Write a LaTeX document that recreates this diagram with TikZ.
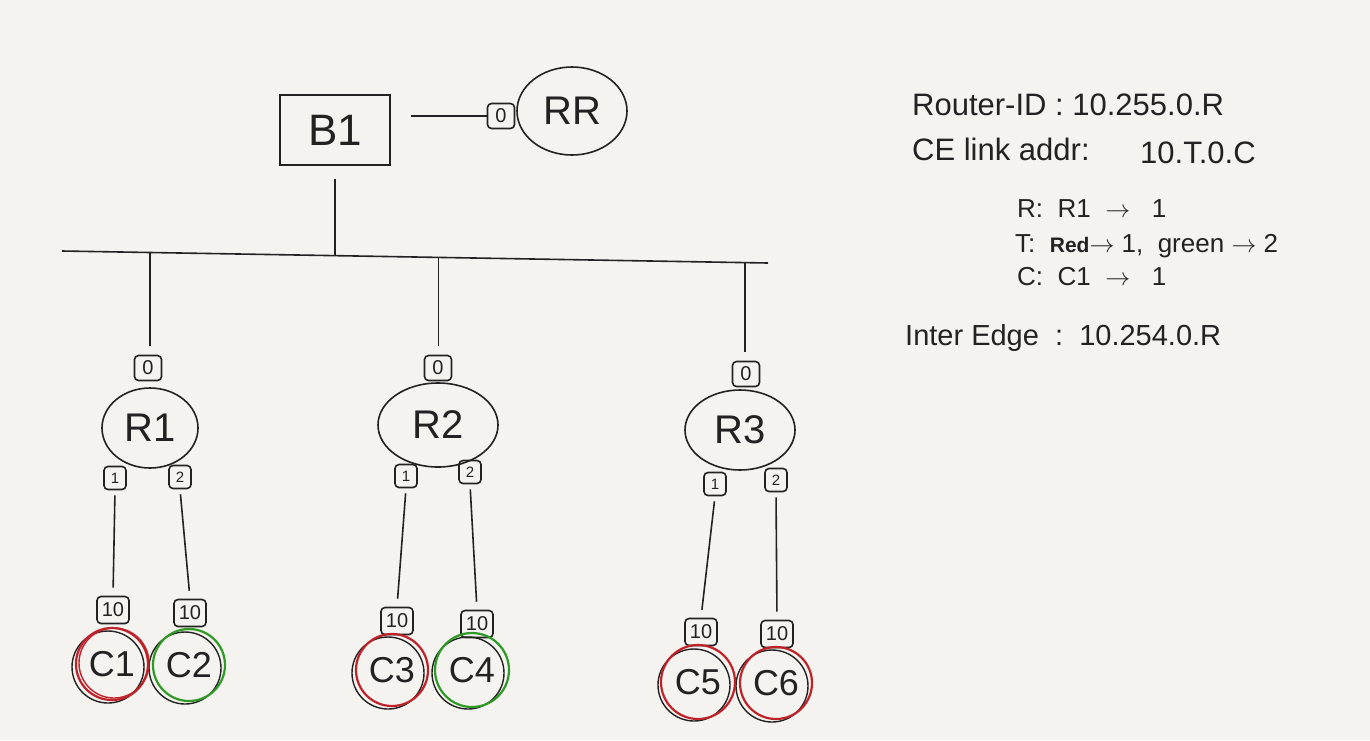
\documentclass[tikz,border=0pt]{standalone}
\usepackage{fontspec}
\setmainfont{Liberation Sans}
\usetikzlibrary{shapes.geometric,calc}
\definecolor{bg}{HTML}{F4F3EF}
\definecolor{ink}{HTML}{222222}
\definecolor{cred}{HTML}{C0222A}
\definecolor{cgreen}{HTML}{2F9A26}
\newcommand\fsz[1]{\fontsize{#1}{#1}\selectfont}
\begin{document}
\begin{tikzpicture}[x=1pt,y=-1pt,
  every node/.style={text=ink},
  link/.style={draw=ink,line width=1.6pt},
  boxnode/.style={draw=ink,line width=1.6pt,minimum width=110pt,minimum height=70pt,font=\fsz{44}},
  rtr/.style={draw=ink,line width=1.6pt,ellipse,inner sep=0pt,font=\fsz{40}},
  pzero/.style={draw=ink,line width=1.6pt,rounded corners=4pt,minimum width=27pt,minimum height=25pt,inner sep=0pt,font=\fsz{20}},
  pnum/.style={draw=ink,line width=1.6pt,rounded corners=4pt,minimum width=22pt,minimum height=23pt,inner sep=0pt,font=\fsz{15}},
  pcust/.style={draw=ink,line width=1.6pt,rounded corners=4pt,minimum width=32pt,minimum height=27pt,inner sep=0pt,font=\fsz{20}},
  cust/.style={circle,minimum size=72pt,inner sep=0pt,font=\fsz{36},line width=2.2pt},
  txt/.style={anchor=base west,inner sep=0pt}
]
\fill[bg] (0,0) rectangle (1370,740);
\useasboundingbox (0,0) rectangle (1370,740);

% top: B1 and RR
\node[boxnode] (B1) at (335,130) {B1};
\node[pzero] (RRp) at (501,116) {0};
\node[rtr,minimum width=110pt,minimum height=88pt] (RR) at (572,111) {RR};
\draw[link,shorten <=20pt] (B1.east |- RRp.west) -- (RRp.west);

% bus
\coordinate (busL) at (62,251);
\coordinate (busR) at (768,263);
\draw[link] (busL) -- (busR);
\coordinate (t0) at ($(busL)!0.384!(busR)$);
\coordinate (t1) at ($(busL)!0.125!(busR)$);
\coordinate (t2) at ($(busL)!0.533!(busR)$);
\coordinate (t3) at ($(busL)!0.967!(busR)$);
\draw[link,shorten <=13pt] (B1.south) -- (B1.south |- t0);

% routers
\node[pzero] (R1p0) at (148,368) {0};
\node[rtr,minimum width=96pt,minimum height=80pt] (R1) at (150,428) {R1};
\node[pnum] (R1p1) at (115,478) {1};
\node[pnum] (R1p2) at (180,477) {2};

\node[pzero] (R2p0) at (438,368) {0};
\node[rtr,minimum width=120pt,minimum height=84pt] (R2) at (438,425) {R2};
\node[pnum] (R2p1) at (406,476) {1};
\node[pnum] (R2p2) at (470,472) {2};

\node[pzero] (R3p0) at (746,374) {0};
\node[rtr,minimum width=110pt,minimum height=80pt] (R3) at (740,430) {R3};
\node[pnum] (R3p1) at (715,484) {1};
\node[pnum] (R3p2) at (776,480) {2};

\draw[link,shorten >=9pt] (t1) -- (t1 |- R1p0.north);
\draw[link,shorten >=9pt] (t2) -- (t2 |- R2p0.north);
\draw[link,shorten >=9pt] (t3) -- (t3 |- R3p0.north);

% customer ports
\node[pcust] (C1p) at (113,610) {10};
\node[pcust] (C2p) at (190,613) {10};
\node[pcust] (C3p) at (397,621) {10};
\node[pcust] (C4p) at (477,624) {10};
\node[pcust] (C5p) at (701,632) {10};
\node[pcust] (C6p) at (777,634) {10};

\draw[link,shorten <=5pt,shorten >=8pt] (R1p1.south) -- (C1p.north);
\draw[link,shorten <=5pt,shorten >=8pt] (R1p2.south) -- (C2p.north);
\draw[link,shorten <=5pt,shorten >=8pt] (R2p1.south) -- (C3p.north);
\draw[link,shorten <=5pt,shorten >=8pt] (R2p2.south) -- (C4p.north);
\draw[link,shorten <=5pt,shorten >=8pt] (R3p1.south) -- (C5p.north);
\draw[link,shorten <=5pt,shorten >=8pt] (R3p2.south) -- (C6p.north);

% customers
\node[cust] (C1) at (112,664) {C1};
\node[cust] (C2) at (189,665) {C2};
\node[cust] (C3) at (392,670) {C3};
\node[cust] (C4) at (472,670) {C4};
\node[cust] (C5) at (698,682) {C5};
\node[cust] (C6) at (776,683) {C6};
\foreach \c in {C1,C2,C3,C4,C5,C6}{
  \draw[ink,line width=1.4pt] ([shift={(-4pt,-3pt)}]\c.center) circle (36pt);
}
\draw[cred,line width=2.2pt] (C1.center) circle (36pt);
\draw[cred,line width=1.4pt] ([shift={(2pt,1pt)}]C1.center) circle (35pt);
\draw[cgreen,line width=2.2pt] (C2.center) circle (36pt);
\draw[cred,line width=2.2pt] (C3.center) circle (36pt);
\draw[cgreen,line width=2.2pt] (C4.center) circle (37pt);
\draw[cred,line width=2.2pt] (C5.center) circle (37pt);
\draw[cred,line width=2.2pt] (C6.center) circle (36pt);

% legend
\node[txt,font=\fsz{31}] (l1) at (912,115) {Router-ID : 10.255.0.R};
\node[txt,font=\fsz{31}] (l2a) at (912,160) {CE link addr:};
\node[txt,font=\fsz{31}] (l2b) at (1140,163) {10.T.0.C};
\node[txt,font=\fsz{26}] (l3) at (1017,217) {R:~~R1 ~$\rightarrow$~~~1};
\node[txt,font=\fsz{26}] (l4) at (1015,252) {T:~~{\fsz{21}\bfseries Red}$\rightarrow$~1,~~green~$\rightarrow$~2};
\node[txt,font=\fsz{26}] (l5) at (1017,285) {C:~~C1 ~$\rightarrow$~~~1};
\node[txt,font=\fsz{29}] (l6) at (905,345) {Inter Edge~~:~~10.254.0.R};
\end{tikzpicture}
\end{document}
